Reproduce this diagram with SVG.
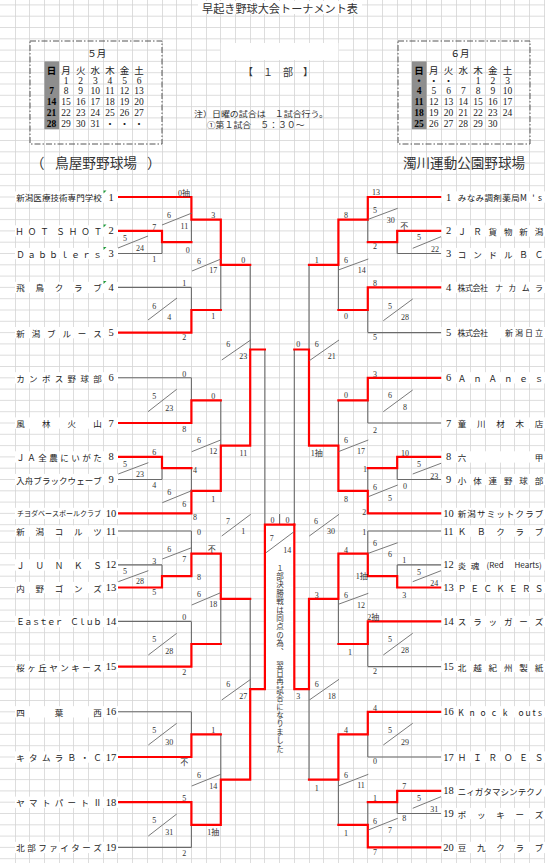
<svg xmlns="http://www.w3.org/2000/svg" width="545" height="863" viewBox="0 0 545 863">
<defs>
<style>
.grid{stroke:#d4d4d4;stroke-width:0.8;fill:none}
.g{stroke:#6a6a6a;stroke-width:1.1;fill:none}
.r{stroke:#ff0000;stroke-width:2.2;fill:none;stroke-linejoin:miter;stroke-linecap:square}
.sl{stroke:#6a6a6a;stroke-width:0.9;fill:none}
.s{font-family:"Liberation Serif","Noto Sans CJK JP",serif;font-size:8px;fill:#333;text-anchor:middle;dominant-baseline:central}
.vt{font-family:"Noto Sans CJK JP",sans-serif;font-size:7.5px;fill:#333;letter-spacing:0.9px;writing-mode:vertical-rl}
.nm{font-family:"Noto Sans CJK JP",sans-serif;font-size:8.5px;fill:#222;text-anchor:middle;dominant-baseline:central}
.no{font-family:"Liberation Serif",serif;font-size:10.5px;fill:#222;text-anchor:middle;dominant-baseline:central}
.cal{font-family:"Liberation Serif","Noto Sans CJK JP",serif;font-size:9.5px;fill:#222;text-anchor:middle;dominant-baseline:central}
.calh{font-family:"Noto Sans CJK JP",sans-serif;font-size:9.5px;fill:#222;text-anchor:middle;dominant-baseline:central}
.sun{font-weight:bold;fill:#000}
.jp{font-family:"Noto Sans CJK JP",sans-serif;fill:#333;dominant-baseline:central}
.wb{fill:#fff}
.tri{fill:#1f9a3a}
</style>
</defs>
<rect width="545" height="863" fill="#fff"/>
<g id="grid">
<path class="grid" d="M15.5 0V863M29.5 0V863M44.5 0V863M59.5 0V863M73.5 0V863M88.5 0V863M103.5 0V863M117.5 0V863M132.5 0V863M147.5 0V863M162.5 0V863M176.5 0V863M191.5 0V863M206.5 0V863M220.5 0V863M235.5 0V863M250.5 0V863M264.5 0V863M279.5 0V863M294.5 0V863M309.5 0V863M323.5 0V863M338.5 0V863M353.5 0V863M367.5 0V863M382.5 0V863M397.5 0V863M411.5 0V863M426.5 0V863M441.5 0V863M456.5 0V863M470.5 0V863M485.5 0V863M500.5 0V863M514.5 0V863M529.5 0V863M544.5 0V863"/>
<path class="grid" d="M0 4.9H545M0 16.2H545M0 27.5H545M0 38.8H545M0 50.1H545M0 61.4H545M0 72.7H545M0 84H545M0 95.3H545M0 106.6H545M0 117.9H545M0 129.2H545M0 140.5H545M0 151.8H545M0 163.1H545M0 174.4H545M0 185.7H545M0 197H545M0 208.3H545M0 219.6H545M0 230.9H545M0 242.2H545M0 253.5H545M0 264.8H545M0 276.1H545M0 287.4H545M0 298.7H545M0 310H545M0 321.3H545M0 332.6H545M0 343.9H545M0 355.2H545M0 366.5H545M0 377.8H545M0 389.1H545M0 400.4H545M0 411.7H545M0 423H545M0 434.3H545M0 445.6H545M0 456.9H545M0 468.2H545M0 479.5H545M0 490.8H545M0 502.1H545M0 513.4H545M0 524.7H545M0 531H545M0 542.3H545M0 553.6H545M0 564.9H545M0 576.2H545M0 587.5H545M0 598.8H545M0 610.1H545M0 621.4H545M0 632.7H545M0 644H545M0 655.3H545M0 666.6H545M0 677.9H545M0 689.2H545M0 700.5H545M0 711.8H545M0 723.1H545M0 734.4H545M0 745.7H545M0 757H545M0 768.3H545M0 779.6H545M0 790.9H545M0 802.2H545M0 813.5H545M0 824.8H545M0 836.1H545M0 847.4H545M0 858.7H545"/>
</g>
<g id="header">
<rect class="wb" x="198" y="1" width="164" height="13"/>
<text class="jp" x="202" y="8" font-size="11" textLength="156" lengthAdjust="spacingAndGlyphs">早起き野球大会トーナメント表</text>
<rect class="wb" x="220.8" y="43" width="117.6" height="17"/>
<text class="jp" x="243" y="71" font-size="10" fill="#222">【　１　部　】</text>
<text class="jp" x="194" y="113.3" font-size="8.5" textLength="134" lengthAdjust="spacingAndGlyphs">注）日曜の試合は　１試合行う。</text>
<text class="jp" x="206.7" y="124" font-size="8.5" textLength="98" lengthAdjust="spacingAndGlyphs">①第１試合　５：３０～</text>
<text class="jp" x="30.5" y="162" font-size="14">（</text>
<text class="jp" x="55" y="162" font-size="13.5" textLength="82" lengthAdjust="spacingAndGlyphs">鳥屋野野球場</text>
<text class="jp" x="147" y="162" font-size="14">）</text>
<text class="jp" x="403" y="162" font-size="13.5" textLength="122" lengthAdjust="spacingAndGlyphs">濁川運動公園野球場</text>
</g>
<g id="cal-may">
<rect x="30" y="41" width="132" height="103" fill="none" stroke="#555" stroke-width="1" stroke-dasharray="6 2 1.5 2"/>
<rect x="44.4" y="61.4" width="14.7" height="67.8" fill="#8e8e8e"/>
<text class="calh" x="96.7" y="52.7" font-size="10">５月</text>
<text class="calh" y="70" x="51.5 66.1 80.7 95.3 109.9 124.5 139.1"><tspan class="sun">日</tspan>月火水木金土</text>
<text class="cal" y="80.7" x="66.1 80.7 95.3 109.9 124.5 139.1">123456</text>
<text class="cal" y="91.3"><tspan class="sun" x="51.5">7</tspan><tspan x="66.1">8</tspan><tspan x="80.7">9</tspan><tspan x="95.3">10</tspan><tspan x="109.9">11</tspan><tspan x="124.5">12</tspan><tspan x="139.1">13</tspan></text>
<text class="cal" y="102"><tspan class="sun" x="51.5">14</tspan><tspan x="66.1">15</tspan><tspan x="80.7">16</tspan><tspan x="95.3">17</tspan><tspan x="109.9">18</tspan><tspan x="124.5">19</tspan><tspan x="139.1">20</tspan></text>
<text class="cal" y="113"><tspan class="sun" x="51.5">21</tspan><tspan x="66.1">22</tspan><tspan x="80.7">23</tspan><tspan x="95.3">24</tspan><tspan x="109.9">25</tspan><tspan x="124.5">26</tspan><tspan x="139.1">27</tspan></text>
<text class="cal" y="124"><tspan class="sun" x="51.5">28</tspan><tspan x="66.1">29</tspan><tspan x="80.7">30</tspan><tspan x="95.3">31</tspan><tspan x="109.9">・</tspan><tspan x="124.5">・</tspan><tspan x="139.1">・</tspan></text>
</g>
<g id="cal-june">
<rect x="398" y="41" width="132" height="103" fill="none" stroke="#555" stroke-width="1" stroke-dasharray="6 2 1.5 2"/>
<rect x="411.9" y="61.4" width="14.7" height="67.8" fill="#8e8e8e"/>
<text class="calh" x="460" y="52.7" font-size="10">６月</text>
<text class="calh" y="70" x="419 433.75 448.5 463.25 478 492.75 507.5"><tspan class="sun">日</tspan>月火水木金土</text>
<text class="cal" y="80.7"><tspan class="sun" x="419">・</tspan><tspan x="433.75">・</tspan><tspan x="448.5">・</tspan><tspan x="478">1</tspan><tspan x="492.75">2</tspan><tspan x="507.5">3</tspan></text>
<text class="cal" y="91.3"><tspan class="sun" x="419">4</tspan><tspan x="433.75">5</tspan><tspan x="448.5">6</tspan><tspan x="463.25">7</tspan><tspan x="478">8</tspan><tspan x="492.75">9</tspan><tspan x="507.5">10</tspan></text>
<text class="cal" y="102"><tspan class="sun" x="419">11</tspan><tspan x="433.75">12</tspan><tspan x="448.5">13</tspan><tspan x="463.25">14</tspan><tspan x="478">15</tspan><tspan x="492.75">16</tspan><tspan x="507.5">17</tspan></text>
<text class="cal" y="113"><tspan class="sun" x="419">18</tspan><tspan x="433.75">19</tspan><tspan x="448.5">20</tspan><tspan x="463.25">21</tspan><tspan x="478">22</tspan><tspan x="492.75">23</tspan><tspan x="507.5">24</tspan></text>
<text class="cal" y="124"><tspan class="sun" x="419">25</tspan><tspan x="433.75">26</tspan><tspan x="448.5">27</tspan><tspan x="463.25">28</tspan><tspan x="478">29</tspan><tspan x="492.75">30</tspan></text>
</g>
<g id="connectors">
<path class="g" d="M118 253.5H162M162 242.2V253.5M191.4 219.6V242.2M118 287.4H191.4M191.4 287.4V310M220.8 264.8V310M250.2 264.8V349.5M264.9 349.5V524.7M118 377.8H191.4M191.4 377.8V400.4M118 479.5H162M162 468.2V479.5M191.4 468.2V490.8M220.8 400.4V445.6M118 531H191.4M191.4 531V553.6M118 564.9H162M162 564.9V576.2M220.8 598.8V644M118 621.4H191.4M191.4 621.4V644M250.2 598.8V689.2M118 711.8H191.4M191.4 711.8V734.4M220.8 734.4V779.6M118 847.4H191.4M191.4 824.8V847.4"/>
<path class="g" d="M441.3 253.5H397.2M397.2 242.2V253.5M367.8 219.6V242.2M441.3 332.6H367.8M367.8 310V332.6M338.4 264.8V310M309 264.8V349.5M294.3 349.5V524.7M441.3 423H367.8M367.8 400.4V423M441.3 479.5H397.2M397.2 468.2V479.5M367.8 468.2V490.8M338.4 400.4V445.6M441.3 531H367.8M367.8 531V553.6M441.3 564.9H397.2M397.2 564.9V576.2M441.3 666.6H367.8M367.8 644V666.6M338.4 598.8V644M309 689.2V779.6M441.3 757H367.8M367.8 734.4V757M338.4 779.6V824.8M441.3 813.5H397.2M397.2 802.2V813.5M367.8 802.2V824.8M279.6 514V524.7"/>
<rect x="264.9" y="524.7" width="29.4" height="164.5" fill="#fff"/>
<path class="r" d="M118 197H191.4V219.6H220.8V264.8H250.2"/>
<path class="r" d="M118 230.9H162V242.2H191.4"/>
<path class="r" d="M118 332.6H191.4V310H220.8"/>
<path class="r" d="M118 423H191.4V400.4H220.8"/>
<path class="r" d="M118 456.9H162V468.2H191.4"/>
<path class="r" d="M118 513.4H191.4V490.8H220.8V445.6H250.2V349.5H264.9"/>
<path class="r" d="M118 587.5H162V576.2H191.4V553.6H220.8V598.8H250.2"/>
<path class="r" d="M118 666.6H191.4V644H220.8"/>
<path class="r" d="M118 757H191.4V734.4H220.8"/>
<path class="r" d="M118 802.2H191.4V824.8H220.8V779.6H250.2V689.2H264.9V524.7H294.3"/>
<path class="r" d="M441.3 197H367.8V219.6H338.4V264.8H309"/>
<path class="r" d="M441.3 230.9H397.2V242.2H367.8"/>
<path class="r" d="M441.3 287.4H367.8V310H338.4"/>
<path class="r" d="M441.3 377.8H367.8V400.4H338.4"/>
<path class="r" d="M441.3 456.9H397.2V468.2H367.8"/>
<path class="r" d="M441.3 513.4H367.8V490.8H338.4V445.6H309V349.5H294.3"/>
<path class="r" d="M441.3 587.5H397.2V576.2H367.8V553.6H338.4V598.8H309V689.2H294.3V524.7"/>
<path class="r" d="M441.3 621.4H367.8V644H338.4"/>
<path class="r" d="M441.3 711.8H367.8V734.4H338.4V779.6H309"/>
<path class="r" d="M441.3 790.9H397.2V802.2H367.8"/>
<path class="r" d="M441.3 847.4H367.8V824.8H338.4"/>
<path class="sl" d="M118 248L148 236M162 225L192 213M192 271L221 259M148 320L177 298M221.7 360L250.7 340M148 411.7L176.7 389.3M191.7 451.7L220.7 440M118.3 474L148.3 462.7M162.3 502.7L191.7 490.7M221.7 536L250.7 514.3M162.3 559L191.7 547.7M118.3 581.7L148.3 570.7M191.7 605L220.7 592.7M148.3 655L176.7 633.3M221.7 700L250.7 679.3M148.3 745L176.7 723.3M191.7 786L220.7 774.3M148.3 836L176.7 814M266 552.7L294 531.7"/>
<path class="sl" d="M368.3 219.3L397.7 208.3M412.7 248.3L441 236.7M338.3 270L368.3 259M383.3 320.7L412.7 299M309.3 360.7L339 340M383.3 411.7L412.7 390M338.3 451.7L368.3 440M412.7 474L441 463.3M368.3 496.7L397.7 485M309.3 536L339 514.3M368.3 553.3L397.7 542.7M412.7 581.7L441 570.7M338.3 604.3L368.3 593.3M383.3 655L412.7 633.3M309.3 700L339 679.3M383.3 745L412.7 723.3M338.3 786L368.3 774.3M412.7 808.3L441 796.7M368.3 830L397.7 818.3"/>
</g>
<g id="final-note">
<text class="vt" x="280" y="564">１部決勝戦は同点の為、　翌日再試合になりました</text>
</g>
<g id="scores">
<text class="s" x="184" y="193">0抽</text>
<text class="s" x="169" y="215">6</text><text class="s" x="184.3" y="226.7">11</text>
<text class="s" x="154.3" y="227.5">7</text>
<text class="s" x="125" y="238.3">5</text><text class="s" x="140" y="248.3">24</text>
<text class="s" x="154.3" y="259.3">1</text>
<text class="s" x="187.7" y="250">0</text>
<text class="s" x="213.3" y="215.5">3</text>
<text class="s" x="199" y="261">6</text><text class="s" x="213.3" y="270.5">17</text>
<text class="s" x="243.3" y="260">0</text>
<text class="s" x="184.3" y="283.3">1</text>
<text class="s" x="154.3" y="306">6</text><text class="s" x="169.3" y="317.3">4</text>
<text class="s" x="213.3" y="316.7">1</text>
<text class="s" x="184.3" y="337.7">2</text>
<text class="s" x="228.3" y="344.3">6</text><text class="s" x="243.3" y="356.7">23</text>
<text class="s" x="184.3" y="374">0</text>
<text class="s" x="154.3" y="396.7">5</text><text class="s" x="169.3" y="408.3">23</text>
<text class="s" x="213.3" y="396.7">0</text>
<text class="s" x="184.3" y="429">8</text>
<text class="s" x="199" y="440.7">6</text><text class="s" x="213.3" y="451.7">12</text>
<text class="s" x="243.3" y="453.3">11</text>
<text class="s" x="154.3" y="452.7">6</text>
<text class="s" x="125" y="464.3">5</text><text class="s" x="140" y="474.3">23</text>
<text class="s" x="195" y="470.7">4</text>
<text class="s" x="154.3" y="485">4</text>
<text class="s" x="169.3" y="492.7">6</text><text class="s" x="184.3" y="504.3">6</text>
<text class="s" x="213.3" y="499">1</text>
<text class="s" x="195" y="517">8</text>
<text class="s" x="228" y="521">7</text><text class="s" x="243.3" y="531">1</text>
<text class="s" x="199" y="532.7">0</text>
<text class="s" x="169.3" y="549.3">6</text><text class="s" x="184.3" y="559.3">7</text>
<text class="s" x="211.7" y="549.3">不</text>
<text class="s" x="154.3" y="561">3</text>
<text class="s" x="125" y="571.7">5</text><text class="s" x="140" y="581.7">28</text>
<text class="s" x="199" y="577.3">8</text>
<text class="s" x="154.3" y="592.3">5</text>
<text class="s" x="199" y="594.3">6</text><text class="s" x="213.3" y="604.3">18</text>
<text class="s" x="184.3" y="617.3">0</text>
<text class="s" x="154.3" y="639.3">5</text><text class="s" x="169.3" y="651">28</text>
<text class="s" x="184.3" y="672.7">2</text>
<text class="s" x="228.3" y="684.3">6</text><text class="s" x="243.3" y="696.7">27</text>
<text class="s" x="154.3" y="730.7">5</text><text class="s" x="169.3" y="742.3">30</text>
<text class="s" x="213.3" y="730">1</text>
<text class="s" x="184.3" y="762.7">不</text>
<text class="s" x="199" y="775">6</text><text class="s" x="213.3" y="786">14</text>
<text class="s" x="184.3" y="798.3">5</text>
<text class="s" x="154.3" y="820.7">5</text><text class="s" x="169.3" y="832.7">31</text>
<text class="s" x="213.3" y="832.7">1抽</text>
<text class="s" x="184.3" y="853.3">2</text>
<text class="s" x="272.5" y="520">0</text><text class="s" x="287.5" y="520">0</text>
<text class="s" x="271.7" y="538.3">7</text><text class="s" x="287.3" y="550">14</text>
<text class="s" x="376" y="192.7">13</text>
<text class="s" x="375" y="210">5</text><text class="s" x="390.7" y="220.7">30</text>
<text class="s" x="404.3" y="226">不</text>
<text class="s" x="419" y="237.7">5</text><text class="s" x="435" y="249.3">22</text>
<text class="s" x="375" y="246.7">2</text>
<text class="s" x="346" y="215">8</text>
<text class="s" x="316.7" y="260.7">1</text>
<text class="s" x="346" y="260.7">6</text><text class="s" x="361.7" y="270">14</text>
<text class="s" x="375" y="283.3">8</text>
<text class="s" x="390" y="306">5</text><text class="s" x="405" y="317.3">28</text>
<text class="s" x="346" y="316.7">0</text>
<text class="s" x="375" y="337.3">5</text>
<text class="s" x="298.3" y="344.3">0</text>
<text class="s" x="316.7" y="344.3">6</text><text class="s" x="331.7" y="356.7">21</text>
<text class="s" x="375" y="374">3</text>
<text class="s" x="390" y="395">6</text><text class="s" x="405" y="407.3">8</text>
<text class="s" x="346" y="395">0</text>
<text class="s" x="375" y="430.7">2</text>
<text class="s" x="346" y="440.7">6</text><text class="s" x="361" y="451">17</text>
<text class="s" x="316.7" y="453.3">1抽</text>
<text class="s" x="405" y="453.3">10</text>
<text class="s" x="365" y="469.3">1</text>
<text class="s" x="419" y="464.3">5</text><text class="s" x="434.3" y="476">23</text>
<text class="s" x="405" y="486.7">0</text>
<text class="s" x="375" y="487.3">6</text><text class="s" x="390" y="498.3">5</text>
<text class="s" x="346" y="499.3">8</text>
<text class="s" x="364.3" y="512.7">2</text>
<text class="s" x="316" y="521">6</text><text class="s" x="331" y="531.7">30</text>
<text class="s" x="364.3" y="532.7">1</text>
<text class="s" x="375" y="543.3">6</text><text class="s" x="390" y="554.3">6</text>
<text class="s" x="346" y="550">4</text>
<text class="s" x="404.3" y="560.7">1</text>
<text class="s" x="419" y="572.3">5</text><text class="s" x="434.3" y="583.3">24</text>
<text class="s" x="361.7" y="576.7">1抽</text>
<text class="s" x="404.3" y="595">3</text>
<text class="s" x="316.7" y="595">3</text>
<text class="s" x="346" y="595">6</text><text class="s" x="361" y="605">12</text>
<text class="s" x="373.3" y="617.7">2抽</text>
<text class="s" x="390" y="639.3">5</text><text class="s" x="405" y="650.7">28</text>
<text class="s" x="350" y="652.7">1</text>
<text class="s" x="375" y="671.7">2</text>
<text class="s" x="316.7" y="684.3">6</text><text class="s" x="331.7" y="696.7">18</text>
<text class="s" x="298.3" y="696.7">3</text>
<text class="s" x="375" y="708.3">4</text>
<text class="s" x="390" y="730.7">5</text><text class="s" x="405" y="742.3">29</text>
<text class="s" x="346" y="730.7">4</text>
<text class="s" x="375" y="761.7">0</text>
<text class="s" x="346" y="775.7">6</text><text class="s" x="361" y="785">11</text>
<text class="s" x="404.3" y="786.7">7</text>
<text class="s" x="316.7" y="788.3">1</text>
<text class="s" x="419" y="798.3">5</text><text class="s" x="434.3" y="809.3">31</text>
<text class="s" x="375" y="798.3">1</text>
<text class="s" x="404.3" y="818.3">8</text>
<text class="s" x="375" y="821.7">6</text><text class="s" x="390" y="830">7</text>
<text class="s" x="346" y="833.3">1</text>
<text class="s" x="375" y="852.7">7</text>
</g>
<g id="L1"><rect class="wb" x="15" y="191.4" width="103" height="11.3"/><text class="nm" y="197" x="20.5 29.1 37.6 46.2 54.7 63.3 71.8 80.4 88.9 97.5">新潟医療技術専門学校</text><text class="no" x="111" y="197">1</text><path class="tri" d="M103.5 190.5h3l-3 3z"/></g>
<g id="L2"><rect class="wb" x="15" y="225.3" width="103" height="11.3"/><text class="nm" y="230.9" x="19.5 32 44.5 60.5 73 85.5 98">ＨＯＴＳＨＯＴ</text><text class="no" x="111" y="230.9">2</text><path class="tri" d="M103.5 224.4h3l-3 3z"/></g>
<g id="L3"><rect class="wb" x="15" y="247.9" width="103" height="11.3"/><text class="nm" y="253.5" x="20.5 31.5 42.5 53.5 64.5 75.5 86.5 97.5">Ｄａｂｂｌｅｒｓ</text><text class="no" x="111" y="253.5">3</text><path class="tri" d="M103.5 247h3l-3 3z"/></g>
<g id="L4"><rect class="wb" x="15" y="281.8" width="103" height="11.3"/><text class="nm" y="287.4" x="20.5 39.75 59 78.25 97.5">飛鳥クラブ</text><text class="no" x="111" y="287.4">4</text><path class="tri" d="M103.5 280.9h3l-3 3z"/></g>
<g id="L5"><rect class="wb" x="15" y="327" width="103" height="11.3"/><text class="nm" y="332.6" x="20.5 35.9 51.3 66.7 82.1 97.5">新潟ブルース</text><text class="no" x="111" y="332.6">5</text></g>
<g id="L6"><rect class="wb" x="15" y="372.2" width="103" height="11.3"/><text class="nm" y="377.8" x="20.5 33.3 46.2 59 71.8 84.7 97.5">カンボス野球部</text><text class="no" x="111" y="377.8">6</text></g>
<g id="L7"><rect class="wb" x="15" y="417.4" width="103" height="11.3"/><text class="nm" y="423" x="20.5 46.2 71.8 97.5">風林火山</text><text class="no" x="111" y="423">7</text></g>
<g id="L8"><rect class="wb" x="15" y="451.3" width="103" height="11.3"/><text class="nm" y="456.9" x="20.5 31.5 42.5 53.5 64.5 75.5 86.5 97.5">ＪＡ全農にいがた</text><text class="no" x="111" y="456.9">8</text></g>
<g id="L9"><rect class="wb" x="15" y="473.9" width="103" height="11.3"/><text class="nm" y="479.5" x="20.5 29.1 37.6 46.2 54.7 63.3 71.8 80.4 88.9 97.5">入舟ブラックウェーブ</text><text class="no" x="111" y="479.5">9</text></g>
<g id="L10"><rect class="wb" x="15" y="507.8" width="103" height="11.3"/><text class="nm" y="513.4" style="font-size:7px" x="20.5 27.5 34.5 41.5 48.5 55.5 62.5 69.5 76.5 83.5 90.5 97.5">チヨダベースボールクラブ</text><text class="no" x="111" y="513.4">10</text></g>
<g id="L11"><rect class="wb" x="15" y="525.4" width="103" height="11.3"/><text class="nm" y="531" x="20.5 39.75 59 78.25 97.5">新潟コルツ</text><text class="no" x="111" y="531">11</text></g>
<g id="L12"><rect class="wb" x="15" y="559.3" width="103" height="11.3"/><text class="nm" y="564.9" x="20.5 39.75 59 78.25 97.5">ＪＵＮＫＳ</text><text class="no" x="111" y="564.9">12</text></g>
<g id="L13"><rect class="wb" x="15" y="581.9" width="103" height="11.3"/><text class="nm" y="587.5" x="20.5 39.75 59 78.25 97.5">内野ゴンズ</text><text class="no" x="111" y="587.5">13</text></g>
<g id="L14"><rect class="wb" x="15" y="615.8" width="103" height="11.3"/><text class="nm" y="621.4" x="20.5 28.2 35.9 43.6 51.3 59 74.4 82.1 89.8 97.5">ＥａｓｔｅｒＣｌｕｂ</text><text class="no" x="111" y="621.4">14</text></g>
<g id="L15"><rect class="wb" x="15" y="661" width="103" height="11.3"/><text class="nm" y="666.6" x="20.5 31.5 42.5 53.5 64.5 75.5 86.5 97.5">桜ヶ丘ヤンキース</text><text class="no" x="111" y="666.6">15</text></g>
<g id="L16"><rect class="wb" x="15" y="706.2" width="103" height="11.3"/><text class="nm" y="711.8" x="20.5 59 97.5">四葉西</text><text class="no" x="111" y="711.8">16</text></g>
<g id="L17"><rect class="wb" x="15" y="751.4" width="103" height="11.3"/><text class="nm" y="757" x="20.5 33.3 46.2 59 71.8 84.7 97.5">キタムラＢ・Ｃ</text><text class="no" x="111" y="757">17</text></g>
<g id="L18"><rect class="wb" x="15" y="796.6" width="103" height="11.3"/><text class="nm" y="802.2" x="20.5 33.3 46.2 59 71.8 84.7 97.5">ヤマトパートⅡ</text><text class="no" x="111" y="802.2">18</text></g>
<g id="L19"><rect class="wb" x="15" y="841.8" width="103" height="11.3"/><text class="nm" y="847.4" x="20.5 31.5 42.5 53.5 64.5 75.5 86.5 97.5">北部ファイターズ</text><text class="no" x="111" y="847.4">19</text></g>
<g id="R1"><rect class="wb" x="441.3" y="191.4" width="103.7" height="11.3"/><text class="nm" y="197" x="462 470.9 479.8 488.7 497.6 506.5 515.4 523.5 533.5 540">みなみ調剤薬局M's</text><text class="no" x="448.5" y="197">1</text></g>
<g id="R2"><rect class="wb" x="441.3" y="225.3" width="103.7" height="11.3"/><text class="nm" y="230.9" x="462 477.4 492.8 508.2 523.6 539">ＪＲ貨物新潟</text><text class="no" x="448.5" y="230.9">2</text></g>
<g id="R3"><rect class="wb" x="441.3" y="247.9" width="103.7" height="11.3"/><text class="nm" y="253.5" x="462 477.4 492.8 508.2 523.6 539">コンドルＢＣ</text><text class="no" x="448.5" y="253.5">3</text></g>
<g id="R4"><rect class="wb" x="441.3" y="281.8" width="103.7" height="11.3"/><text class="nm" y="287.4" style="font-size:8px" x="461.5 469 476.5 484 499 512.3 525.7 539">株式会社ナカムラ</text><text class="no" x="448.5" y="287.4">4</text></g>
<g id="R5"><rect class="wb" x="441.3" y="327" width="103.7" height="11.3"/><text class="nm" y="332.6" style="font-size:8px" x="461.5 469 476.5 484 509 519 529 539">株式会社新潟日立</text><text class="no" x="448.5" y="332.6">5</text></g>
<g id="R6"><rect class="wb" x="441.3" y="372.2" width="103.7" height="11.3"/><text class="nm" y="377.8" x="462 477.4 492.8 508.2 523.6 539">ＡｎＡｎｅｓ</text><text class="no" x="448.5" y="377.8">6</text></g>
<g id="R7"><rect class="wb" x="441.3" y="417.4" width="103.7" height="11.3"/><text class="nm" y="423" x="462 481.25 500.5 519.75 539">童川材木店</text><text class="no" x="448.5" y="423">7</text></g>
<g id="R8"><rect class="wb" x="441.3" y="451.3" width="103.7" height="11.3"/><text class="nm" y="456.9" x="462 539">六甲</text><text class="no" x="448.5" y="456.9">8</text></g>
<g id="R9"><rect class="wb" x="441.3" y="473.9" width="103.7" height="11.3"/><text class="nm" y="479.5" x="462 477.4 492.8 508.2 523.6 539">小体連野球部</text><text class="no" x="448.5" y="479.5">9</text></g>
<g id="R10"><rect class="wb" x="441.3" y="507.8" width="103.7" height="11.3"/><text class="nm" y="513.4" x="462 471.6 481.25 490.9 500.5 510.1 519.75 529.4 539">新潟サミットクラブ</text><text class="no" x="448.5" y="513.4">10</text></g>
<g id="R11"><rect class="wb" x="441.3" y="525.4" width="103.7" height="11.3"/><text class="nm" y="531" x="462 481.25 500.5 519.75 539">ＫＢクラブ</text><text class="no" x="448.5" y="531">11</text></g>
<g id="R12"><rect class="wb" x="441.3" y="559.3" width="103.7" height="11.3"/><text class="nm" y="564.9" x="462 475">炎魂</text><text class="nm" y="564.9" x="486.5" style="text-anchor:start;font-size:8px">(Red</text><text class="nm" y="564.9" x="514.5" style="text-anchor:start;font-size:8px">Hearts)</text><text class="no" x="448.5" y="564.9">12</text></g>
<g id="R13"><rect class="wb" x="441.3" y="581.9" width="103.7" height="11.3"/><text class="nm" y="587.5" x="462 474.8 487.7 500.5 513.3 526.2 539">ＰＥＣＫＥＲＳ</text><text class="no" x="448.5" y="587.5">13</text></g>
<g id="R14"><rect class="wb" x="441.3" y="615.8" width="103.7" height="11.3"/><text class="nm" y="621.4" x="462 477.4 492.8 508.2 523.6 539">スラッガーズ</text><text class="no" x="448.5" y="621.4">14</text></g>
<g id="R15"><rect class="wb" x="441.3" y="661" width="103.7" height="11.3"/><text class="nm" y="666.6" x="462 477.4 492.8 508.2 523.6 539">北越紀州製紙</text><text class="no" x="448.5" y="666.6">15</text></g>
<g id="R16"><rect class="wb" x="441.3" y="706.2" width="103.7" height="11.3"/><text class="nm" y="711.8" x="461 472 483 494 505 521 528 534 540">Knockouts</text><text class="no" x="448.5" y="711.8">16</text></g>
<g id="R17"><rect class="wb" x="441.3" y="751.4" width="103.7" height="11.3"/><text class="nm" y="757" x="462 477.4 492.8 508.2 523.6 539">ＨＩＲＯＥＳ</text><text class="no" x="448.5" y="757">17</text></g>
<g id="R18"><rect class="wb" x="441.3" y="785.3" width="103.7" height="11.3"/><text class="nm" y="790.9" x="462 470.6 479.1 487.7 496.2 504.8 513.3 521.9 530.4 539">ニィガタマシンテクノ</text><text class="no" x="448.5" y="790.9">18</text></g>
<g id="R19"><rect class="wb" x="441.3" y="807.9" width="103.7" height="11.3"/><text class="nm" y="813.5" x="462 481.25 500.5 519.75 539">ポッキーズ</text><text class="no" x="448.5" y="813.5">19</text></g>
<g id="R20"><rect class="wb" x="441.3" y="841.8" width="103.7" height="11.3"/><text class="nm" y="847.4" x="462 481.25 500.5 519.75 539">豆九クラブ</text><text class="no" x="448.5" y="847.4">20</text></g>
</svg>
